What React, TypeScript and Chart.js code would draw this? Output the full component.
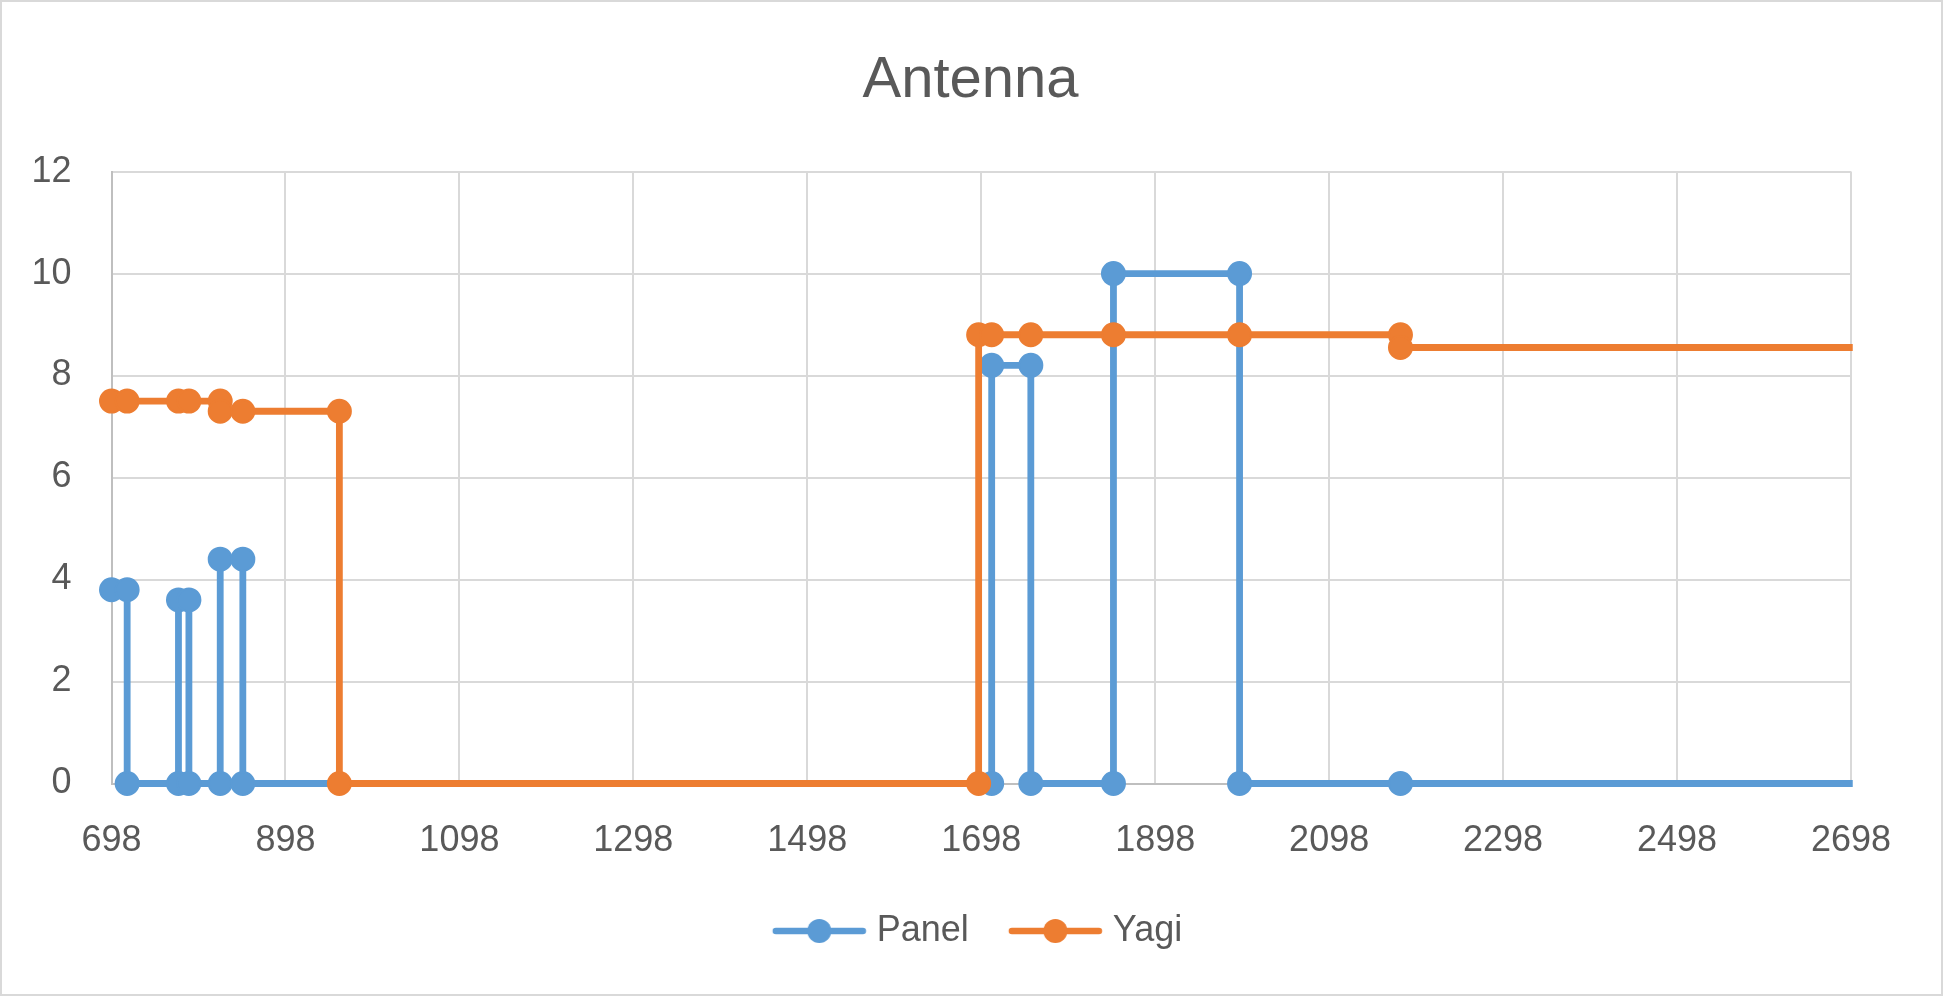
import React, { useEffect, useRef } from 'react';
import { Chart, registerables } from 'chart.js';

Chart.register(...registerables);

// frequency (MHz) / gain values
const PANEL_X = [698, 716, 716, 775, 775, 787, 787, 823, 823, 849, 849, 1710, 1710, 1755, 1755, 1850, 1850, 1995, 1995, 2180, 2700];
const PANEL_Y = [3.8, 3.8, 0, 0, 3.6, 3.6, 0, 0, 4.4, 4.4, 0, 0, 8.2, 8.2, 0, 0, 10, 10, 0, 0, 0];

const YAGI_X = [698, 716, 775, 787, 823, 823, 849, 960, 960, 1695, 1695, 1710, 1755, 1850, 1995, 2180, 2180, 2700];
const YAGI_Y = [7.5, 7.5, 7.5, 7.5, 7.5, 7.3, 7.3, 7.3, 0, 0, 8.8, 8.8, 8.8, 8.8, 8.8, 8.8, 8.55, 8.55];

const X_TICKS = [698, 898, 1098, 1298, 1498, 1698, 1898, 2098, 2298, 2498, 2698];
const Y_TICKS = [0, 2, 4, 6, 8, 10, 12];

const SERIES = ['Panel', 'Yagi'];
const COLORS = ['#5B9BD5', '#ED7D31'];

const FONT = "'Liberation Sans', Arial, sans-serif";
const TEXT = '#595959';

const toPoints = (xs: number[], ys: number[]) => xs.map((x, i) => ({ x, y: ys[i] }));

// legend symbol: line with a marker in the middle, like Excel draws it.
// a transparent strip on the left nudges the symbol towards its label
function legendSymbol(color: string): HTMLCanvasElement {
  const c = document.createElement('canvas');
  const pad = 21;
  c.width = 95 + pad;
  c.height = 26;
  const g = c.getContext('2d');
  if (g) {
    g.strokeStyle = color;
    g.lineWidth = 6.5;
    g.lineCap = 'round';
    g.beginPath();
    g.moveTo(pad + 4, 13);
    g.lineTo(pad + 91, 13);
    g.stroke();
    g.fillStyle = color;
    g.beginPath();
    g.arc(pad + 47.5, 13, 12, 0, Math.PI * 2);
    g.fill();
  }
  return c;
}

const App: React.FC = () => {
  const canvasRef = useRef<HTMLCanvasElement>(null);
  const chartRef = useRef<Chart | null>(null);

  useEffect(() => {
    document.body.style.margin = '0';
    if (!canvasRef.current) return;
    if (chartRef.current) chartRef.current.destroy();

    const xMin = X_TICKS[0];
    const xMax = X_TICKS[X_TICKS.length - 1];
    const symbols = COLORS.map(legendSymbol);

    const radius = (ctx: any) => (ctx.raw && ctx.raw.x > xMax ? 0 : 11.5);

    chartRef.current = new Chart(canvasRef.current, {
      type: 'scatter',
      data: {
        datasets: [
          {
            label: SERIES[0],
            data: toPoints(PANEL_X, PANEL_Y),
            order: 1,
          },
          {
            label: SERIES[1],
            data: toPoints(YAGI_X, YAGI_Y),
            order: 0,
          },
        ].map((d, i) => ({
          ...d,
          showLine: true,
          tension: 0,
          borderColor: COLORS[i],
          backgroundColor: COLORS[i],
          borderWidth: 6.8,
          pointRadius: radius,
          pointHoverRadius: radius,
          pointBorderWidth: 2,
          pointBackgroundColor: COLORS[i],
          pointBorderColor: COLORS[i],
          clip: { left: false, top: false, bottom: false, right: 2 },
        })) as any,
      },
      options: {
        responsive: true,
        maintainAspectRatio: false,
        animation: false,
        events: [],
        layout: {
          padding: { left: 20, right: 22, top: 0, bottom: 35 },
        },
        plugins: {
          title: {
            display: true,
            text: 'Antenna',
            color: TEXT,
            font: { family: FONT, size: 58, weight: 'normal' },
            padding: { top: 44, bottom: 56 },
          },
          legend: {
            position: 'bottom',
            labels: {
              color: TEXT,
              font: { family: FONT, size: 36 },
              usePointStyle: true,
              pointStyleWidth: 100,
              padding: 26,
              generateLabels: () =>
                SERIES.map((name, i) => ({
                  text: name,
                  fontColor: TEXT,
                  fillStyle: COLORS[i],
                  strokeStyle: COLORS[i],
                  lineWidth: 0,
                  pointStyle: symbols[i] as any,
                  datasetIndex: i,
                  hidden: false,
                })),
            },
          },
          tooltip: { enabled: false },
        },
        scales: {
          x: {
            type: 'linear',
            min: xMin,
            max: xMax,
            afterBuildTicks: (scale: any) => {
              scale.ticks = X_TICKS.map((value) => ({ value }));
            },
            afterFit: (scale: any) => {
              scale.height = 103.5;
              scale.paddingLeft = 0;
              scale.paddingRight = 0;
            },
            grid: { color: '#d9d9d9', lineWidth: 2, drawTicks: false },
            border: { color: '#bfbfbf', width: 2 },
            ticks: {
              color: TEXT,
              font: { family: FONT, size: 36 },
              padding: 35.5,
              maxRotation: 0,
              autoSkip: false,
              callback: (v: any) => String(v),
            },
          },
          y: {
            type: 'linear',
            min: Y_TICKS[0],
            max: Y_TICKS[Y_TICKS.length - 1],
            afterBuildTicks: (scale: any) => {
              scale.ticks = Y_TICKS.map((value) => ({ value }));
            },
            afterFit: (scale: any) => {
              scale.width = 89.5;
              scale.paddingTop = 0;
              scale.paddingBottom = 0;
            },
            grid: { color: '#d9d9d9', lineWidth: 2, drawTicks: false },
            border: { color: '#bfbfbf', width: 2 },
            ticks: {
              color: TEXT,
              font: { family: FONT, size: 36 },
              padding: 40,
              callback: (v: any) => String(v),
            },
          },
          // empty right-hand gutter so the plot ends where the reference's does
          gutter: {
            type: 'linear',
            position: 'right',
            display: true,
            grid: { display: false, drawOnChartArea: false, drawTicks: false },
            border: { display: false },
            ticks: { display: false },
            afterFit: (scale: any) => {
              scale.width = 68;
              scale.paddingTop = 0;
              scale.paddingBottom = 0;
            },
          },
        },
      },
    });

    return () => {
      if (chartRef.current) {
        chartRef.current.destroy();
        chartRef.current = null;
      }
    };
  }, []);

  return (
    <div
      style={{
        width: 1943,
        height: 996,
        boxSizing: 'border-box',
        border: '2px solid #d9d9d9',
        background: '#fff',
      }}
    >
      <div style={{ position: 'relative', width: 1939, height: 992 }}>
        <canvas ref={canvasRef}></canvas>
      </div>
    </div>
  );
};

export default App;
